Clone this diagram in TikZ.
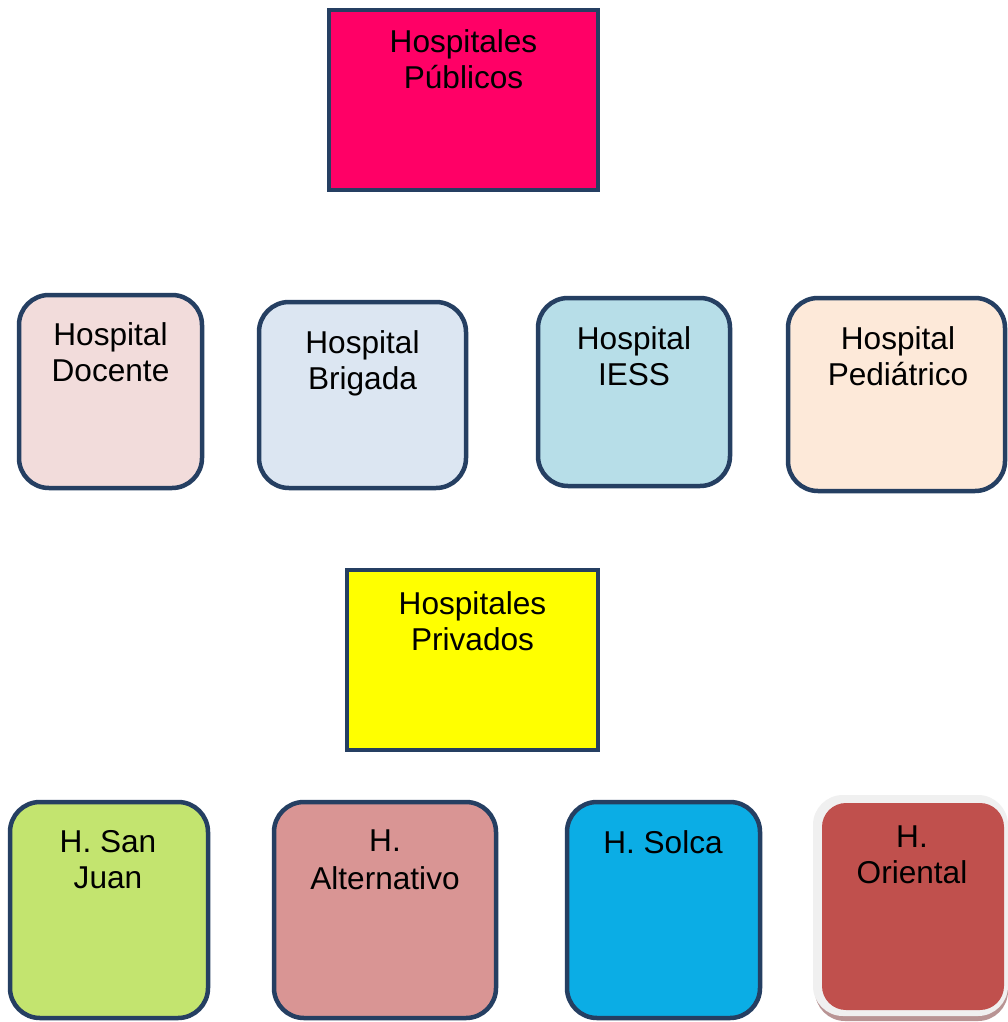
\documentclass[tikz,border=0pt]{standalone}
\usepackage{fontspec}
\setmainfont{Liberation Sans}
\begin{document}
\begin{tikzpicture}[x=1pt,y=-1pt,
  box/.style={draw=boxline,line width=4.5pt,inner sep=0pt,minimum width=#1},
  rbox/.style={box=#1,rounded corners=30pt},
  lbl/.style={anchor=north,inner sep=0pt,align=center,font=\fontsize{31.6}{36}\selectfont}
]
\definecolor{boxline}{HTML}{253F62}
\definecolor{cpub}{HTML}{FF0066}
\definecolor{cdoc}{HTML}{F2DCDB}
\definecolor{cbri}{HTML}{DCE6F2}
\definecolor{cies}{HTML}{B7DEE8}
\definecolor{cped}{HTML}{FDE9D9}
\definecolor{cpri}{HTML}{FFFF00}
\definecolor{csan}{HTML}{C3E46F}
\definecolor{calt}{HTML}{D99594}
\definecolor{csol}{HTML}{0BADE5}
\definecolor{cori}{HTML}{C0504D}
\definecolor{cframe}{HTML}{F0F0F0}
\definecolor{cshadow}{HTML}{B99494}
\useasboundingbox[fill=white] (0,0) rectangle (1008,1022);

% Hospitales Publicos
\node[box=269pt,minimum height=180pt,fill=cpub] (pub) at (463.5,100) {};
\node[lbl] (tpub) at (463.5,29) {Hospitales\\Públicos};

% second row
\node[rbox=183pt,minimum height=193pt,fill=cdoc] (doc) at (110.5,391.5) {};
\node[lbl] (tdoc) at (110.5,322) {Hospital\\Docente};
\node[rbox=207pt,minimum height=186pt,fill=cbri] (bri) at (362.5,395) {};
\node[lbl] (tbri) at (362.5,330) {Hospital\\Brigada};
\node[rbox=192pt,minimum height=188pt,fill=cies] (ies) at (634,392) {};
\node[lbl] (ties) at (634,326) {Hospital\\IESS};
\node[rbox=217pt,minimum height=193pt,fill=cped] (ped) at (896.5,394.5) {};
\node[lbl] (tped) at (898,326) {Hospital\\Pediátrico};

% Hospitales Privados
\node[box=251pt,minimum height=180pt,fill=cpri] (pri) at (472.5,660) {};
\node[lbl] (tpri) at (472.5,591) {Hospitales\\Privados};

% fourth row
\node[rbox=198pt,minimum height=216pt,fill=csan] (san) at (109,910) {};
\node[lbl] (tsan) at (108,830) {H. San\\Juan};
\node[rbox=222pt,minimum height=216pt,fill=calt] (alt) at (385,910) {};
\node[lbl,font=\fontsize{31.6}{38}\selectfont] (talt) at (385,830) {H.\\Alternativo};
\node[rbox=193pt,minimum height=216pt,fill=csol] (sol) at (663.5,910) {};
\node[lbl] (tsol) at (663,830) {H. Solca};

% H. Oriental with light frame and shadow
\fill[cshadow,rounded corners=30pt] (815,800) rectangle (1008,1021);
\fill[cframe,rounded corners=30pt] (813,795) rectangle (1008,1016);
\node[fill=cori,rounded corners=24pt,inner sep=0pt,minimum width=182pt,minimum height=207pt] (ori) at (913,906.5) {};
\node[lbl] (tori) at (912,826) {H.\\Oriental};
\end{tikzpicture}
\end{document}
